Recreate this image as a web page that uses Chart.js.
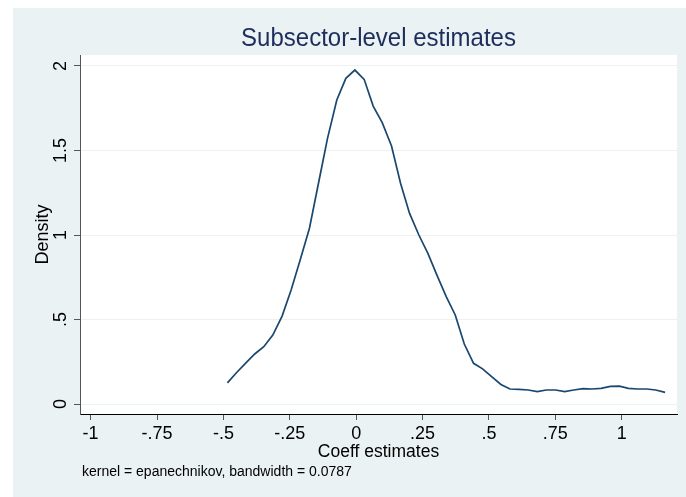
<!DOCTYPE html>
<html><head><meta charset="utf-8">
<script src="https://cdn.jsdelivr.net/npm/chart.js@4.4.1/dist/chart.umd.min.js"></script>
<style>html,body{margin:0;padding:0;background:#fff;} #wrap{width:686px;height:497px;position:relative;}</style>
</head><body><div id="wrap"><canvas id="c" width="686" height="497"></canvas></div>
<script>
const coeffValues = [-0.485,-0.451,-0.417,-0.382,-0.348,-0.314,-0.279,-0.245,-0.211,-0.176,-0.142,-0.108,-0.073,-0.039,-0.005,0.030,0.064,0.098,0.133,0.167,0.201,0.236,0.270,0.304,0.339,0.373,0.407,0.442,0.476,0.510,0.545,0.579,0.613,0.648,0.682,0.716,0.751,0.785,0.819,0.854,0.888,0.922,0.957,0.991,1.025,1.060,1.094,1.128,1.163];
const densityValues = [0.125,0.185,0.240,0.296,0.339,0.408,0.520,0.675,0.852,1.040,1.306,1.572,1.799,1.927,1.976,1.921,1.763,1.665,1.527,1.306,1.128,1.000,0.891,0.763,0.635,0.527,0.355,0.241,0.208,0.162,0.116,0.089,0.087,0.083,0.073,0.083,0.083,0.073,0.083,0.091,0.089,0.093,0.104,0.106,0.093,0.089,0.089,0.083,0.069];
const xTickValues = [-1,-0.75,-0.5,-0.25,0,0.25,0.5,0.75,1];
const xTickLabels = ['-1','-.75','-.5','-.25','0','.25','.5','.75','1'];
const yTickValues = [0,0.5,1,1.5,2];
const yTickLabels = ['0','.5','1','1.5','2'];
const chartTitle = 'Subsector-level estimates';
const xTitle = 'Coeff estimates';
const yTitle = 'Density';
const noteText = 'kernel = epanechnikov, bandwidth = 0.0787';

const FONT = "'Liberation Sans', Arial, sans-serif";
const BG = '#EAF2F3';

const decor = {
  id: 'decor',
  beforeDraw(chart) {
    const ctx = chart.ctx, ca = chart.chartArea;
    ctx.save();
    ctx.fillStyle = '#ffffff';
    ctx.fillRect(0, 0, chart.width, chart.height);
    ctx.fillStyle = BG;
    ctx.fillRect(13, 8, chart.width - 13, chart.height - 8);
    ctx.fillStyle = '#ffffff';
    ctx.fillRect(ca.left, ca.top, ca.right - ca.left, ca.bottom - ca.top);
    ctx.restore();
  },
  afterDraw(chart) {
    const ctx = chart.ctx, ca = chart.chartArea, ys = chart.scales.y;
    ctx.save();
    ctx.fillStyle = '#1E2E5C';
    ctx.font = '25px ' + FONT;
    ctx.textAlign = 'center';
    ctx.textBaseline = 'middle';
    ctx.save();
    ctx.translate((ca.left + ca.right) / 2, 39);
    ctx.scale(0.96, 1);
    ctx.fillText(chartTitle, 0, 0);
    ctx.restore();
    ctx.fillStyle = '#000';
    ctx.font = '18px ' + FONT;
    yTickValues.forEach((v, i) => {
      const py = ys.getPixelForValue(v);
      ctx.save();
      ctx.translate(61, py);
      ctx.rotate(-Math.PI / 2);
      ctx.fillText(yTickLabels[i], 0, 0);
      ctx.restore();
    });
    ctx.font = '14px ' + FONT;
    ctx.textAlign = 'left';
    ctx.fillText(noteText, 82, 472);
    ctx.restore();
  }
};

new Chart(document.getElementById('c'), {
  type: 'line',
  data: {
    datasets: [{
      data: coeffValues.map((x, i) => ({x: x, y: densityValues[i]})),
      borderColor: '#1A476F',
      borderWidth: 1.7,
      pointRadius: 0,
      tension: 0,
      fill: false
    }]
  },
  plugins: [decor],
  options: {
    responsive: false,
    animation: false,
    devicePixelRatio: 1,
    layout: {padding: {left: 0, right: 9, top: 55, bottom: 0}},
    plugins: {legend: {display: false}, tooltip: {enabled: false}, title: {display: false}},
    scales: {
      x: {
        type: 'linear',
        min: -1.04, max: 1.208,
        afterFit(s) { s.height = 83; },
        afterBuildTicks(s) { s.ticks = xTickValues.map(v => ({value: v})); },
        grid: {drawOnChartArea: false, drawTicks: true, tickLength: 6, tickColor: '#555'},
        border: {display: true, color: '#000', width: 1},
        ticks: {
          padding: 3,
          color: '#000',
          font: {family: FONT, size: 18},
          maxRotation: 0, autoSkip: false,
          callback(v) { const i = xTickValues.indexOf(v); return i >= 0 ? xTickLabels[i] : ''; }
        },
        title: {display: true, text: xTitle, color: '#000', font: {family: FONT, size: 17.5}, padding: {top: 0, bottom: 34}}
      },
      y: {
        type: 'linear',
        min: -0.059, max: 2.065,
        afterFit(s) { s.width = 80; },
        afterBuildTicks(s) { s.ticks = yTickValues.map(v => ({value: v})); },
        grid: {drawOnChartArea: true, color: BG, lineWidth: 1, drawTicks: true, tickLength: 6, tickColor: '#555'},
        border: {display: true, color: '#555', width: 1},
        ticks: {display: false},
        title: {display: true, text: yTitle, color: '#000', font: {family: FONT, size: 18}, padding: {top: 32, bottom: 0}}
      }
    }
  }
});
</script></body></html>
